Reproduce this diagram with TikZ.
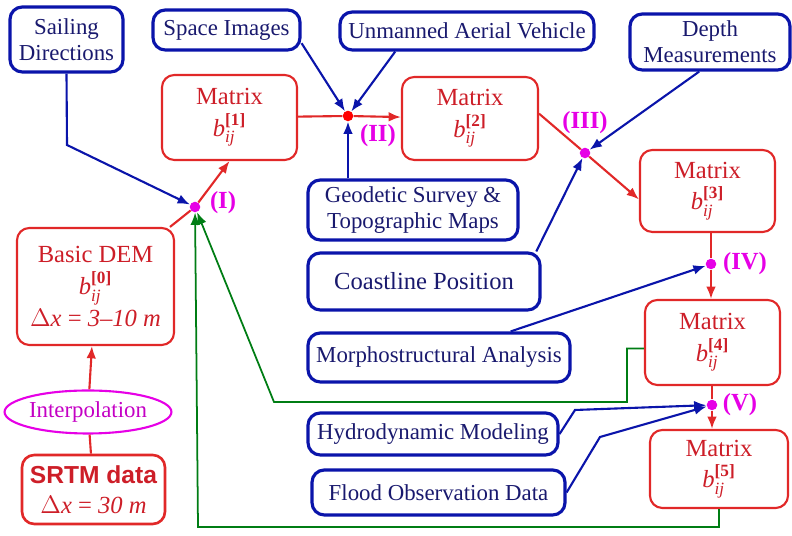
\documentclass[tikz,border=0pt]{standalone}
\usepackage{amsmath}
\usepackage{fontspec}
\setmainfont{Liberation Serif}
\newfontfamily\srtmfont{Liberation Sans}
\usepackage{xcolor}
\usepackage{tikz}
\usetikzlibrary{shapes,arrows,positioning,calc,arrows.meta}

\definecolor{boxred}{RGB}{225,40,40}
\definecolor{txtred}{RGB}{205,30,40}
\definecolor{boxblue}{RGB}{10,20,170}
\definecolor{txtblue}{RGB}{25,25,110}
\definecolor{nodemag}{RGB}{230,0,230}
\definecolor{linegreen}{RGB}{0,125,20}

\newcommand{\bij}[1]{\textit{b}$_{\textit{ij}}^{\textbf{[#1]}}$}

\tikzset{
    redbox/.style={draw=boxred, line width=1.2pt, rounded corners=7pt, text=txtred, align=center, inner sep=0pt, font=\fontsize{14}{17}\selectfont},
    bluebox/.style={draw=boxblue, line width=1.8pt, rounded corners=7pt, text=txtblue, align=center, inner sep=0pt, font=\fontsize{13}{15}\selectfont},
    joint/.style={circle, fill=nodemag, inner sep=0pt, minimum size=6pt},
    jointlabel/.style={text=nodemag, inner sep=0pt, font=\bfseries\fontsize{14}{16}\selectfont},
    redline/.style={draw=boxred, line width=1.2pt},
    blueline/.style={draw=boxblue, line width=1.2pt},
    greenline/.style={draw=linegreen, line width=1pt},
    >={Latex[length=7pt,width=5.5pt]}
}

\begin{document}
\begin{tikzpicture}
    \useasboundingbox (0,0) rectangle (15.84,10.72);

    % sources
    \node[bluebox, minimum width=2.26cm, minimum height=1.3cm] (sail) at (1.33,9.93) {Sailing\\Directions};
    \node[bluebox, minimum width=2.94cm, minimum height=0.8cm] (space) at (4.53,10.12) {Space Images};
    \node[bluebox, minimum width=5.08cm, minimum height=0.76cm] (uav) at (9.34,10.10) {Unmanned Aerial Vehicle};
    \node[bluebox, minimum width=3.2cm, minimum height=1.12cm] (depth) at (14.2,9.88) {Depth\\Measurements};
    \node[bluebox, minimum width=4.2cm, minimum height=1.2cm] (geo) at (8.26,6.52) {Geodetic Survey \&\\Topographic Maps};
    \node[bluebox, minimum width=4.64cm, minimum height=1.14cm, font=\fontsize{14}{16}\selectfont] (coast) at (8.48,5.09) {Coastline Position};
    \node[bluebox, minimum width=5.24cm, minimum height=0.98cm] (morph) at (8.78,3.57) {Morphostructural Analysis};
    \node[bluebox, minimum width=5.0cm, minimum height=0.84cm] (hydro) at (8.66,2.04) {Hydrodynamic Modeling};
    \node[bluebox, minimum width=5.06cm, minimum height=0.9cm] (flood) at (8.77,0.87) {Flood Observation Data};

    % matrices
    \node[redbox, minimum width=2.86cm, minimum height=1.38cm, line width=1.5pt] (srtm) at (1.87,0.93) {{\srtmfont\bfseries SRTM data}\\$\Delta$\textit{x} = \textit{30 m}};
    \node[draw=nodemag, ellipse, line width=1.2pt, text=nodemag!85!black, inner sep=0pt, minimum width=2.74cm, minimum height=0.86cm, font=\fontsize{13}{15}\selectfont] (interp) at (1.76,2.48) {Interpolation};
    \node[redbox, minimum width=3.14cm, minimum height=2.34cm] (dem) at (1.91,4.99) {Basic DEM\\[1pt]\bij{0}\\[1pt]$\Delta$\textit{x} = \textit{3--10 m}};
    \node[redbox, minimum width=2.7cm, minimum height=1.7cm] (m1) at (4.59,8.37) {Matrix\\[1pt]\bij{1}};
    \node[redbox, minimum width=2.72cm, minimum height=1.66cm] (m2) at (9.4,8.35) {Matrix\\[1pt]\bij{2}};
    \node[redbox, minimum width=2.7cm, minimum height=1.64cm] (m3) at (14.15,6.9) {Matrix\\[1pt]\bij{3}};
    \node[redbox, minimum width=2.7cm, minimum height=1.7cm] (m4) at (14.25,3.87) {Matrix\\[1pt]\bij{4}};
    \node[redbox, minimum width=2.76cm, minimum height=1.56cm] (m5) at (14.38,1.34) {Matrix\\[1pt]\bij{5}};

    % junctions
    \node[joint] (j1) at (3.9,6.58) {};
    \node[joint, fill=red] (j2) at (6.96,8.4) {};
    \node[joint] (j3) at (11.7,7.66) {};
    \node[joint] (j4) at (14.22,5.44) {};
    \node[joint] (j5) at (14.24,2.62) {};
    \node[jointlabel] (l1) at (4.46,6.66) {(I)};
    \node[jointlabel] (l2) at (7.56,8.0) {(II)};
    \node[jointlabel] (l3) at (11.7,8.26) {(III)};
    \node[jointlabel] (l4) at (14.9,5.44) {(IV)};
    \node[jointlabel] (l5) at (14.8,2.62) {(V)};

    \coordinate (sailbend) at (1.34,7.82);
    \coordinate (hydrobend) at (11.5,2.52);
    \coordinate (floodbend) at (12.0,1.98);
    \coordinate (greenA) at (12.54,2.68);
    \coordinate (greenB) at (5.48,2.68);
    \coordinate (greenC) at (3.96,0.18);

    % main chain
    \draw[redline] (srtm) -- (interp);
    \draw[redline, ->] (interp) -- (dem);
    \draw[redline] (dem) -- (j1);
    \draw[redline, ->] (j1) -- (m1.south);
    \draw[redline] (m1) -- (j2);
    \draw[redline, ->] (j2) -- (m2);
    \draw[redline] (m2.4) -- (j3);
    \draw[redline, ->] (j3) -- (m3.187);
    \draw[redline] (m3.south -| j4) -- (j4);
    \draw[redline, ->] (j4) -- (j4 |- m4.north);
    \draw[redline] (j5 |- m4.south) -- (j5);
    \draw[redline, ->] (j5) -- (j5 |- m5.north);

    % data inputs
    \draw[blueline, ->] (sail.south) -- (sailbend) -- (j1);
    \draw[blueline, ->] (space.-10) -- (j2);
    \draw[blueline, ->] (uav.196) -- (j2);
    \draw[blueline, ->] (geo.north -| j2) -- (j2);
    \draw[blueline, ->] (depth.250) -- (j3);
    \draw[blueline, ->] (coast.15) -- (j3);
    \draw[blueline, ->] (morph.20) -- (j4);
    \draw[blueline, ->] (hydro.east) -- (hydrobend) -- (j5);
    \draw[blueline, ->] (flood.east) -- (floodbend) -- (j5);

    % feedback
    \draw[greenline, ->] (m4.185) -| (greenA) -- (greenB) -- (j1);
    \draw[greenline, ->] (m5.south) |- (greenC) -- (j1);
\end{tikzpicture}
\end{document}
